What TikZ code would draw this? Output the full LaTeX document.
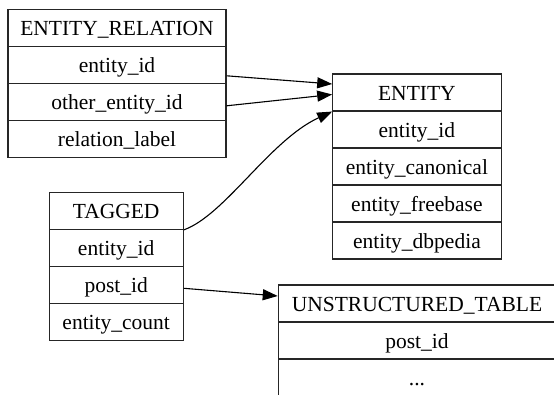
\documentclass[tikz,border=0pt]{standalone}
\usepackage{fontspec}
\setmainfont{Liberation Serif}
\usetikzlibrary{arrows.meta}
\begin{document}
\begin{tikzpicture}[x=1pt,y=-1pt,
  cell/.style={draw=black!85, line width=1.1pt, rectangle, inner sep=0pt,
    minimum height=37pt, text height=18pt, text depth=2pt,
    font=\fontsize{21.5}{24}\selectfont},
  link/.style={draw=black, line width=1.1pt,
    -{Triangle[length=15pt,width=11pt]}}]
\path[use as bounding box, clip] (0,0) rectangle (554,394);

% ENTITY_RELATION table
\begin{scope}[every node/.style={cell, minimum width=218pt}]
  \node (erh)  at (117,27.8)  {ENTITY\_RELATION};
  \node (ereid) at (117,64.8)  {entity\_id};
  \node (eroid) at (117,101.8) {other\_entity\_id};
  \node (erlab) at (117,138.8) {relation\_label};
\end{scope}

% ENTITY table
\begin{scope}[every node/.style={cell, minimum width=168.3pt}]
  \node (enh)  at (416.9,92.5)  {ENTITY};
  \node (eneid) at (416.9,129.5) {entity\_id};
  \node (encan) at (416.9,166.5) {entity\_canonical};
  \node (enfb)  at (416.9,203.5) {entity\_freebase};
  \node (endb)  at (416.9,240.5) {entity\_dbpedia};
\end{scope}

% TAGGED table
\begin{scope}[every node/.style={cell, minimum width=134.3pt}]
  \node (tgh)  at (116.2,210.8) {TAGGED};
  \node (tgeid) at (116.2,247.8) {entity\_id};
  \node (tgpid) at (116.2,284.8) {post\_id};
  \node (tgcnt) at (116.2,321.8) {entity\_count};
\end{scope}

% UNSTRUCTURED_TABLE (runs past the frame)
\begin{scope}[every node/.style={cell, minimum width=277.4pt}]
  \node (uth)  at (417,303.5) {UNSTRUCTURED\_TABLE};
  \node (utpid) at (417,340.5) {post\_id};
  \node (utdot) at (417,377.5) {...};
\end{scope}

% foreign keys
\draw[link] ([yshift=-11pt]ereid.east) -- ([yshift=8.5pt]enh.west);
\draw[link] ([yshift=-4pt]eroid.east) -- ([yshift=-2pt]enh.west);
\draw[link] (tgh.south east) .. controls (225,215) and (270,140) .. (enh.south west);
\draw[link] ([yshift=-3.5pt]tgpid.east) -- ([yshift=7.5pt]uth.west);
\end{tikzpicture}
\end{document}
